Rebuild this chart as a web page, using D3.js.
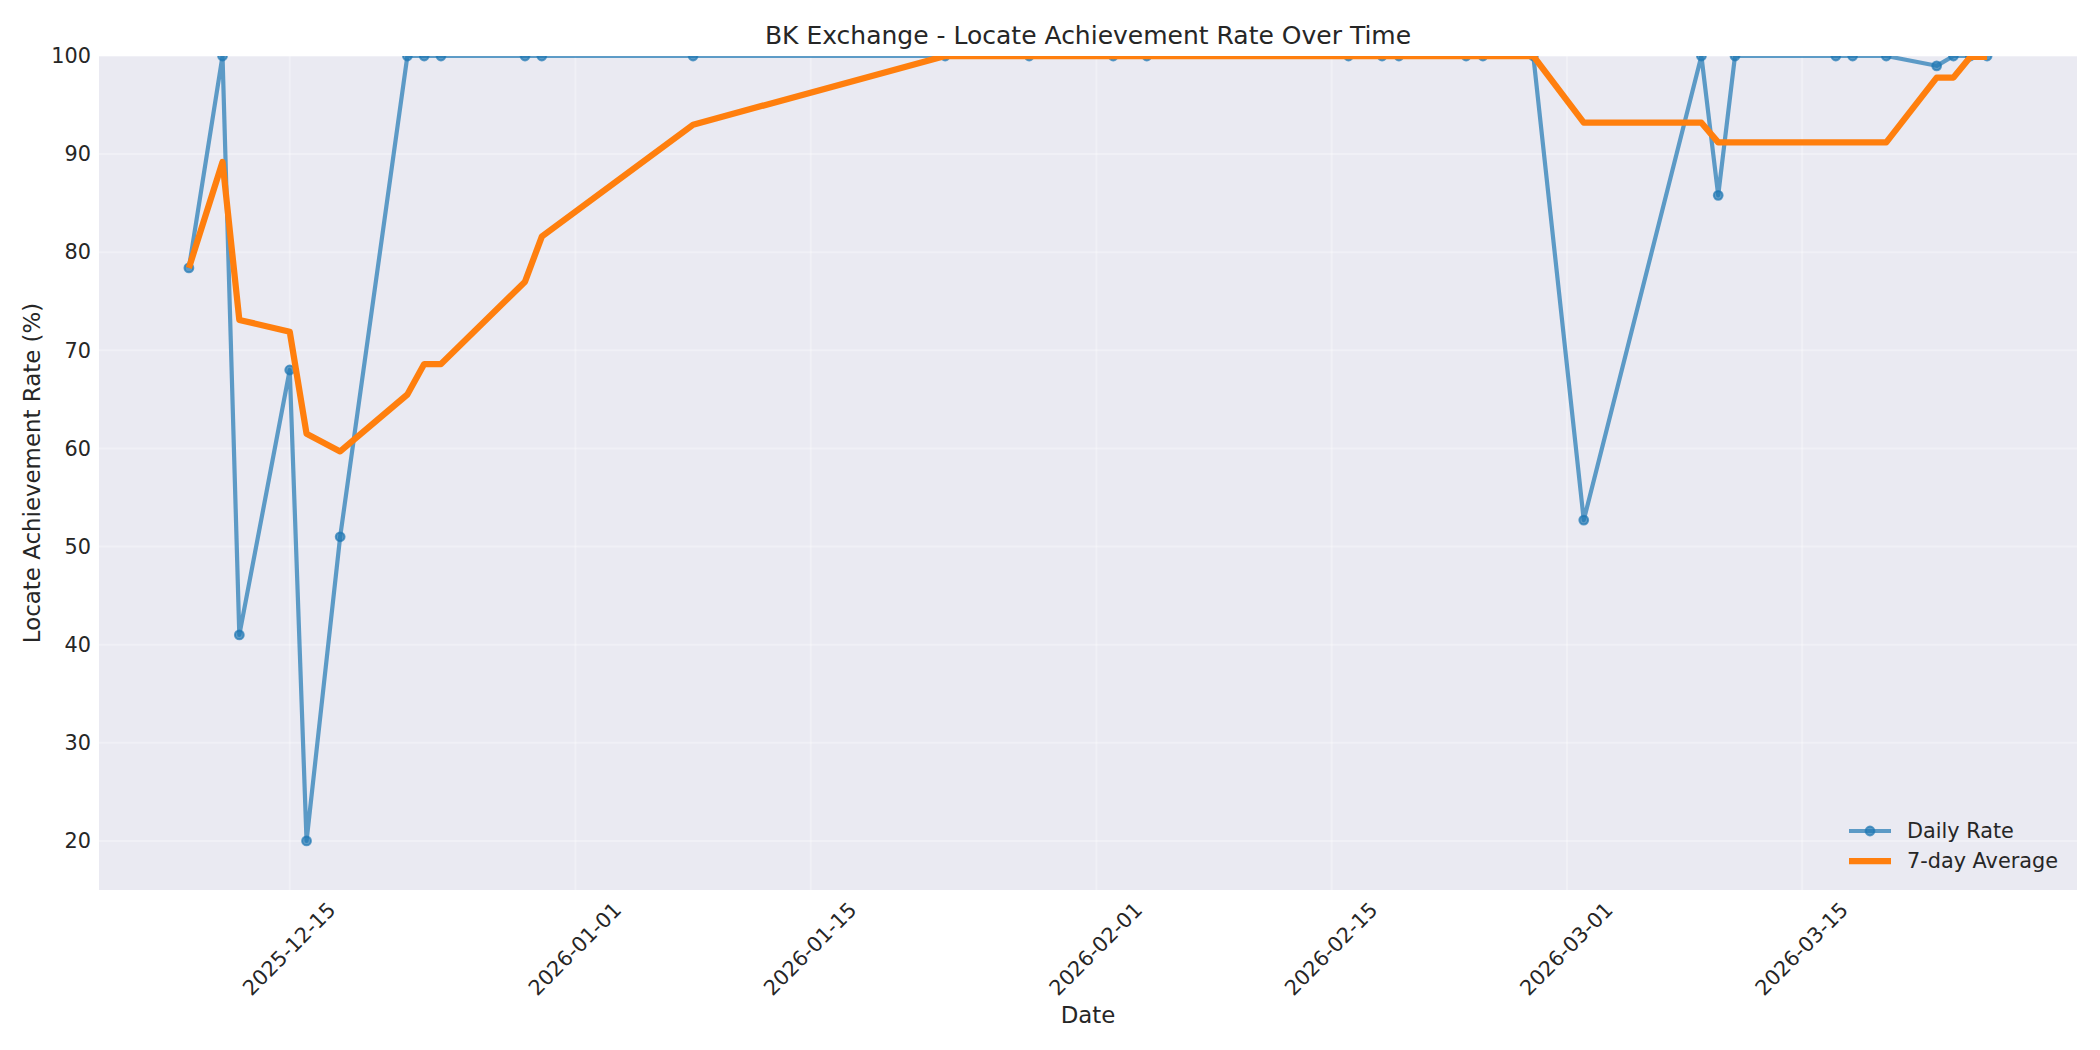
<!DOCTYPE html>
<html>
<head>
<meta charset="utf-8">
<script src="https://cdn.jsdelivr.net/npm/d3@7"></script>
<style>
  body { margin: 0; background: #fff; }
  text { font-family: "DejaVu Sans", sans-serif; fill: #262626; }
</style>
</head>
<body>
<script>
// dates (business days with a reading)
const dates = [
    "2025-12-09", "2025-12-11", "2025-12-12", "2025-12-15", "2025-12-16", "2025-12-18",
    "2025-12-22", "2025-12-23", "2025-12-24", "2025-12-29", "2025-12-30", "2026-01-08",
    "2026-01-23", "2026-01-28", "2026-02-02", "2026-02-04", "2026-02-16", "2026-02-18",
    "2026-02-19", "2026-02-23", "2026-02-24", "2026-02-27", "2026-03-02", "2026-03-09",
    "2026-03-10", "2026-03-11", "2026-03-17", "2026-03-18", "2026-03-20", "2026-03-23",
    "2026-03-24", "2026-03-25", "2026-03-26"
];
const dailyRate = [
    78.4, 100, 41.0, 68.0, 20.0, 51.0,
    100, 100, 100, 100, 100, 100,
    100, 100, 100, 100, 100, 100,
    100, 100, 100, 100, 52.7, 100,
    85.8, 100, 100, 100, 100, 99.0,
    100, 100, 100
];
const avg7 = [
    78.4, 89.2, 73.1, 71.9, 61.5, 59.7,
    65.5, 68.6, 68.6, 77.0, 81.6, 93.0,
    100, 100, 100, 100, 100, 100,
    100, 100, 100, 100, 93.2, 93.2,
    91.2, 91.2, 91.2, 91.2, 91.2, 97.8,
    97.8, 99.9, 99.9
];
const xTickLabels = ["2025-12-15", "2026-01-01", "2026-01-15", "2026-02-01", "2026-02-15", "2026-03-01", "2026-03-15"];
const yTickValues = [20, 30, 40, 50, 60, 70, 80, 90, 100];

const parse = d3.timeParse("%Y-%m-%d");
const data = dates.map((d, i) => ({ date: parse(d), rate: dailyRate[i], avg: avg7[i] }));

const width = 2100;
const height = 1050;
const margin = {top: 56, right: 23, bottom: 160, left: 99};
const iw = width - margin.left - margin.right;
const ih = height - margin.top - margin.bottom;

const svg = d3.select("body").append("svg")
    .attr("width", width)
    .attr("height", height);

// 5% padding on both sides of the date range, like matplotlib
const ext = d3.extent(data, d => d.date);
const pad = (ext[1] - ext[0]) * 0.05;
const xscale = d3.scaleTime()
    .domain([new Date(+ext[0] - pad), new Date(+ext[1] + pad)])
    .range([0, iw]);
const yscale = d3.scaleLinear()
    .domain([15, 100])
    .range([ih, 0]);

svg.append("defs").append("clipPath").attr("id", "clip")
    .append("rect").attr("width", iw).attr("height", ih);

const g = svg.append("g")
    .attr("transform", `translate(${margin.left}, ${margin.top})`);

g.append("rect")
    .attr("width", iw).attr("height", ih)
    .attr("fill", "#eaeaf2");

// grid
const xTicks = xTickLabels.map(parse);
g.append("g").selectAll("line").data(xTicks).enter().append("line")
    .attr("x1", d => xscale(d)).attr("x2", d => xscale(d))
    .attr("y1", 0).attr("y2", ih)
    .attr("stroke", "#fff").attr("stroke-opacity", 0.3).attr("stroke-width", 2);
g.append("g").selectAll("line").data(yTickValues).enter().append("line")
    .attr("x1", 0).attr("x2", iw)
    .attr("y1", d => yscale(d)).attr("y2", d => yscale(d))
    .attr("stroke", "#fff").attr("stroke-opacity", 0.3).attr("stroke-width", 2);

// axes (labels only, no tick marks)
const xAxis = g.append("g")
    .attr("transform", `translate(0, ${ih})`)
    .call(d3.axisBottom(xscale).tickValues(xTicks).tickSize(0).tickFormat(d3.timeFormat("%Y-%m-%d")));
xAxis.select(".domain").remove();
xAxis.selectAll("text")
    .attr("y", 0).attr("dy", null)
    .attr("transform", d => `translate(-1, 59) rotate(-45)`)
    .attr("text-anchor", "middle")
    .attr("dominant-baseline", "central")
    .style("font-size", "20.8px")
    .style("font-family", "DejaVu Sans")
    .attr("fill", "#262626");

const yAxis = g.append("g")
    .call(d3.axisLeft(yscale).tickValues(yTickValues).tickSize(0).tickPadding(8));
yAxis.select(".domain").remove();
yAxis.selectAll("text")
    .style("font-size", "20.8px")
    .style("font-family", "DejaVu Sans")
    .attr("fill", "#262626");

// lines
const plot = g.append("g").attr("clip-path", "url(#clip)");

const rateLine = d3.line().x(d => xscale(d.date)).y(d => yscale(d.rate));
const avgLine = d3.line().x(d => xscale(d.date)).y(d => yscale(d.avg));

plot.append("path")
    .datum(data)
    .attr("d", rateLine)
    .attr("fill", "none")
    .attr("stroke", "#1f77b4")
    .attr("stroke-opacity", 0.7)
    .attr("stroke-width", 4.2)
    .attr("stroke-linejoin", "round");
plot.selectAll("circle")
    .data(data)
    .enter()
    .append("circle")
    .attr("cx", d => xscale(d.date))
    .attr("cy", d => yscale(d.rate))
    .attr("r", 4.4)
    .attr("fill", "#1f77b4")
    .attr("fill-opacity", 0.7)
    .attr("stroke", "#1f77b4")
    .attr("stroke-opacity", 0.7)
    .attr("stroke-width", 2);

plot.append("path")
    .datum(data)
    .attr("d", avgLine)
    .attr("fill", "none")
    .attr("stroke", "#ff7f0e")
    .attr("stroke-width", 6.25)
    .attr("stroke-linejoin", "round");

// titles
svg.append("text")
    .attr("x", margin.left + iw / 2).attr("y", 44)
    .attr("text-anchor", "middle")
    .style("font-size", "25px")
    .text("BK Exchange - Locate Achievement Rate Over Time");
svg.append("text")
    .attr("x", margin.left + iw / 2).attr("y", 1023)
    .attr("text-anchor", "middle")
    .style("font-size", "22.9px")
    .text("Date");
svg.append("text")
    .attr("transform", `translate(32, ${margin.top + ih / 2}) rotate(-90)`)
    .attr("text-anchor", "middle")
    .attr("dominant-baseline", "central")
    .style("font-size", "22.9px")
    .text("Locate Achievement Rate (%)");

// legend, lower right, no frame
const legend = svg.append("g");
const items = [
    {label: "Daily Rate", color: "#1f77b4", w: 4.2, op: 0.7, marker: true, y: 831},
    {label: "7-day Average", color: "#ff7f0e", w: 6.25, op: 1, marker: false, y: 861}
];
items.forEach(it => {
    legend.append("line")
        .attr("x1", 1849).attr("x2", 1891)
        .attr("y1", it.y).attr("y2", it.y)
        .attr("stroke", it.color).attr("stroke-width", it.w)
        .attr("stroke-opacity", it.op);
    if (it.marker) {
        legend.append("circle")
            .attr("cx", 1870).attr("cy", it.y).attr("r", 4.4)
            .attr("fill", it.color).attr("fill-opacity", it.op)
            .attr("stroke", it.color).attr("stroke-opacity", it.op).attr("stroke-width", 2);
    }
    legend.append("text")
        .attr("x", 1907).attr("y", it.y)
        .attr("dominant-baseline", "central")
        .style("font-size", "20.8px")
        .text(it.label);
});
</script>
</body>
</html>
